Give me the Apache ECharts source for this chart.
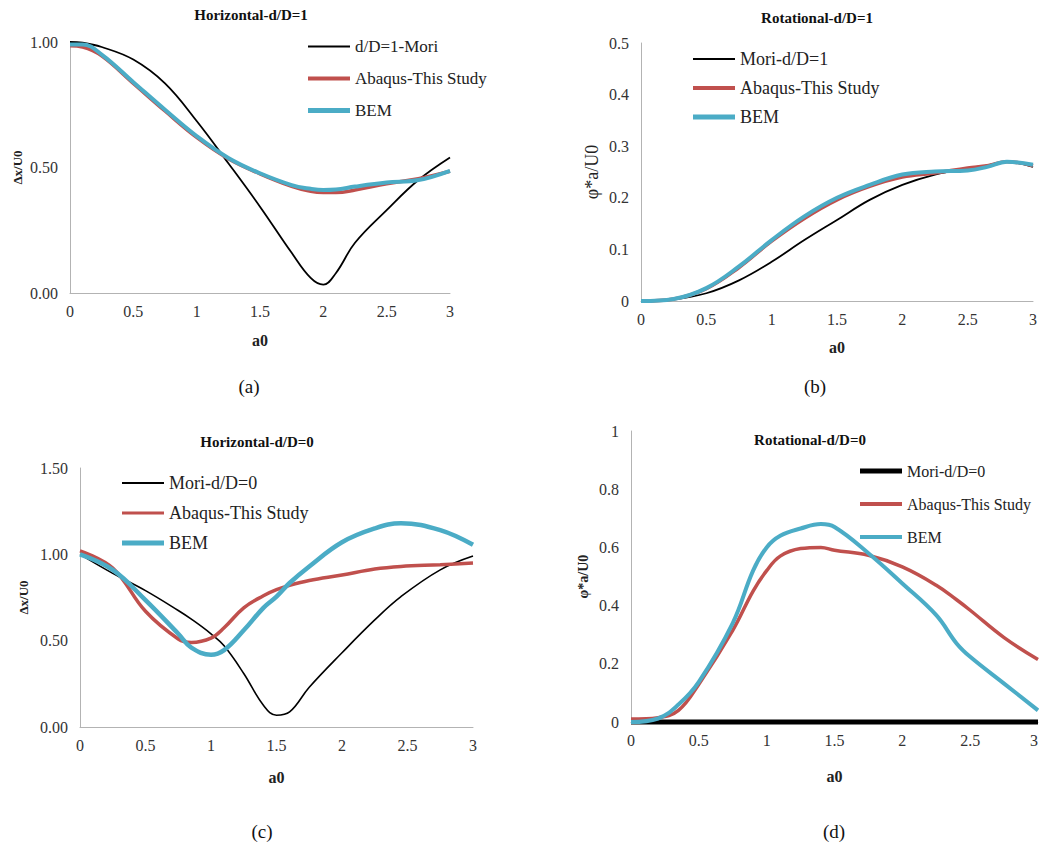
<!DOCTYPE html>
<html><head><meta charset="utf-8">
<script src="https://cdn.jsdelivr.net/npm/echarts@6/dist/echarts.min.js"></script>
<style>html,body{margin:0;padding:0;background:#fff}#c{width:1039px;height:847px}</style>
</head><body><div id="c"></div>
<script>
// ---- (a) Horizontal d/D=1 ----
const aX      = [0, 0.1, 0.25, 0.5, 0.75, 1.0, 1.25, 1.5, 1.75, 1.9, 2.0, 2.1, 2.25, 2.5, 2.75, 3.0];
const aMori   = [1.0, 0.997, 0.98, 0.93, 0.835, 0.685, 0.517, 0.344, 0.16, 0.06, 0.033, 0.08, 0.2, 0.33, 0.45, 0.54];
const aAbaqus = [0.985, 0.98, 0.945, 0.835, 0.725, 0.62, 0.535, 0.475, 0.425, 0.405, 0.40, 0.40, 0.41, 0.435, 0.455, 0.485];
const aBEM    = [0.99, 0.99, 0.95, 0.84, 0.73, 0.625, 0.538, 0.477, 0.43, 0.415, 0.41, 0.412, 0.424, 0.44, 0.45, 0.487];
// ---- (b) Rotational d/D=1 ----
const bX      = [0, 0.25, 0.5, 0.75, 1.0, 1.25, 1.5, 1.75, 2.0, 2.25, 2.5, 2.65, 2.8, 3.0];
const bMori   = [0, 0.003, 0.015, 0.04, 0.076, 0.118, 0.157, 0.196, 0.225, 0.245, 0.257, 0.263, 0.27, 0.26];
const bAbaqus = [0, 0.004, 0.024, 0.065, 0.116, 0.16, 0.196, 0.222, 0.24, 0.248, 0.258, 0.262, 0.27, 0.262];
const bBEM    = [0, 0.004, 0.025, 0.067, 0.118, 0.164, 0.2, 0.225, 0.245, 0.251, 0.253, 0.26, 0.27, 0.264];
// ---- (c) Horizontal d/D=0 ----
const cX      = [0, 0.25, 0.5, 0.75, 0.85, 1.0, 1.1, 1.25, 1.4, 1.5, 1.6, 1.75, 2.0, 2.25, 2.45, 2.75, 3.0];
const cMori   = [1.0, 0.89, 0.79, 0.675, 0.625, 0.54, 0.47, 0.31, 0.126, 0.068, 0.087, 0.23, 0.43, 0.62, 0.755, 0.91, 0.99];
const cAbaqus = [1.02, 0.92, 0.67, 0.51, 0.49, 0.515, 0.575, 0.69, 0.76, 0.795, 0.82, 0.848, 0.88, 0.915, 0.93, 0.94, 0.95];
const cBEM    = [1.0, 0.91, 0.735, 0.54, 0.46, 0.418, 0.445, 0.56, 0.69, 0.755, 0.834, 0.93, 1.07, 1.15, 1.18, 1.14, 1.055];
// ---- (d) Rotational d/D=0 ----
const dX      = [0, 0.2, 0.35, 0.5, 0.75, 0.9, 1.0, 1.1, 1.25, 1.4, 1.5, 1.75, 2.0, 2.25, 2.4, 2.5, 2.75, 3.0];
const dMori   = [0, 0, 0, 0, 0, 0, 0, 0, 0, 0, 0, 0, 0, 0, 0, 0, 0, 0];
const dAbaqus = [0.01, 0.015, 0.04, 0.13, 0.315, 0.45, 0.52, 0.57, 0.596, 0.60, 0.59, 0.573, 0.533, 0.47, 0.42, 0.384, 0.29, 0.215];
const dBEM    = [0, 0.012, 0.06, 0.138, 0.34, 0.52, 0.60, 0.64, 0.665, 0.68, 0.67, 0.58, 0.476, 0.367, 0.27, 0.224, 0.132, 0.04];

const titles   = ['Horizontal-d/D=1', 'Rotational-d/D=1', 'Horizontal-d/D=0', 'Rotational-d/D=0'];
const captions = ['(a)', '(b)', '(c)', '(d)'];
const moriNames = ['d/D=1-Mori', 'Mori-d/D=1', 'Mori-d/D=0', 'Mori-d/D=0'];
const abaqusName = 'Abaqus-This Study';
const bemName = 'BEM';

const SERIF = 'Liberation Serif';
const RED = '#C0504D', BLUE = '#4BACC6', BLACK = '#000000';
const zw = k => '\u200b'.repeat(k);
const zip = (xs, ys) => xs.map((x, i) => [x, ys[i]]);

const grids = [
  {left: 70, top: 42, width: 380, height: 251},
  {left: 641, top: 43, width: 392, height: 258},
  {left: 80, top: 468, width: 393, height: 259},
  {left: 631, top: 431, width: 407, height: 291}
].map(g => Object.assign(g, {outerBoundsMode: 'none', containLabel: false}));
const yCfg = [
  {max: 1, interval: 0.5, fmt: v => v.toFixed(2), name: 'Δx/U0', nameBold: true, nameSize: 13, gap: 46},
  {max: 0.5, interval: 0.1, fmt: v => String(+v.toFixed(1)), name: 'φ*a/U0', nameBold: false, nameSize: 18, gap: 40},
  {max: 1.5, interval: 0.5, fmt: v => v.toFixed(2), name: 'Δx/U0', nameBold: true, nameSize: 13, gap: 50},
  {max: 1, interval: 0.2, fmt: v => String(+v.toFixed(1)), name: 'φ*a/U0', nameBold: true, nameSize: 14, gap: 41}
];
const xGap = [39, 38, 42, 46];
const AXC = '#b3b3b3';
const LBL = '#333333';

const xAxis = grids.map((g, i) => ({
  type: 'value', gridIndex: i, min: 0, max: 3, interval: 0.5,
  name: 'a0', nameLocation: 'middle', nameGap: xGap[i],
  nameTextStyle: {fontFamily: SERIF, fontWeight: 'bold', fontSize: 16, color: '#222'},
  axisLine: {show: true, onZero: false, lineStyle: {color: AXC, width: 1}},
  axisTick: {show: false}, splitLine: {show: false},
  axisLabel: {fontFamily: SERIF, fontSize: 16, color: LBL, margin: 10, showMaxLabel: true, showMinLabel: true,
              alignMaxLabel: i === 3 ? 'right' : undefined}
}));
const yAxis = yCfg.map((c, i) => ({
  type: 'value', gridIndex: i, min: 0, max: c.max, interval: c.interval,
  name: c.name, nameLocation: 'middle', nameGap: c.gap, nameRotate: 90,
  nameTextStyle: {fontFamily: SERIF, fontWeight: c.nameBold ? 'bold' : 'normal', fontSize: c.nameSize, color: '#222'},
  axisLine: {show: true, lineStyle: {color: AXC, width: 1}},
  axisTick: {show: false}, splitLine: {show: false},
  axisLabel: {fontFamily: SERIF, fontSize: 16, color: LBL, margin: 12, formatter: c.fmt}
}));

const sets = [
  [aX, aMori, aAbaqus, aBEM, 1.8, 3.5, 4],
  [bX, bMori, bAbaqus, bBEM, 1.8, 3.5, 4],
  [cX, cMori, cAbaqus, cBEM, 1.6, 3.5, 4.5],
  [dX, dMori, dAbaqus, dBEM, 5, 3.5, 4]
];
const series = [];
sets.forEach((s, i) => {
  const [xs, m, ab, be, wm, wa, wb] = s;
  const mk = (name, ys, color, w) => ({
    type: 'line', name: name + zw(i), xAxisIndex: i, yAxisIndex: i,
    data: zip(xs, ys), smooth: 0.4, showSymbol: false, symbol: 'none', clip: false,
    lineStyle: {color, width: w}, itemStyle: {color}, emphasis: {disabled: true}
  });
  series.push(mk(moriNames[i], m, BLACK, wm));
  series.push(mk(abaqusName, ab, RED, wa));
  series.push(mk(bemName, be, BLUE, wb));
});

const iconPath = h => 'path://M0,0H42V' + h + 'H0Z';
const legCfg = [
  {left: 303, top: 33, gap: 15, fs: 17, w: [2, 4, 5]},
  {left: 688, top: 45, gap: 11, fs: 18, w: [2, 4, 5]},
  {left: 117, top: 469, gap: 12, fs: 18, w: [2, 3, 5]},
  {left: 855, top: 458, gap: 17, fs: 16, w: [5, 4, 4]}
];
const legend = legCfg.map((l, i) => ({
  orient: 'vertical', left: l.left, top: l.top, itemWidth: 42, itemHeight: 14, itemGap: l.gap,
  selectedMode: false, itemStyle: {borderWidth: 0},
  data: [moriNames[i], abaqusName, bemName].map((n, k) => ({name: n + zw(i), icon: iconPath(l.w[k])})),
  formatter: n => n.replace(/\u200b/g, ''),
  textStyle: {fontFamily: SERIF, fontSize: l.fs, color: '#222'}
}));

const titlePos = [[251, 15], [817, 18], [257, 442], [810, 440]];
const capPos = [[249, 386], [815, 386], [262, 831], [834, 831]];
const graphic = [];
titles.forEach((t, i) => graphic.push({type: 'text', x: titlePos[i][0], y: titlePos[i][1], z: 10,
  style: {text: t, fontFamily: SERIF, fontWeight: 'bold', fontSize: 15, fill: '#111', textAlign: 'center', textVerticalAlign: 'middle'}}));
captions.forEach((t, i) => graphic.push({type: 'text', x: capPos[i][0], y: capPos[i][1],
  style: {text: t, fontFamily: SERIF, fontSize: 19, fill: '#111', textAlign: 'center', textVerticalAlign: 'middle'}}));

const chart = echarts.init(document.getElementById('c'), null, {renderer: 'svg'});
chart.setOption({
  animation: false, backgroundColor: '#fff',
  grid: grids, xAxis, yAxis, series, legend, graphic
});
</script></body></html>
